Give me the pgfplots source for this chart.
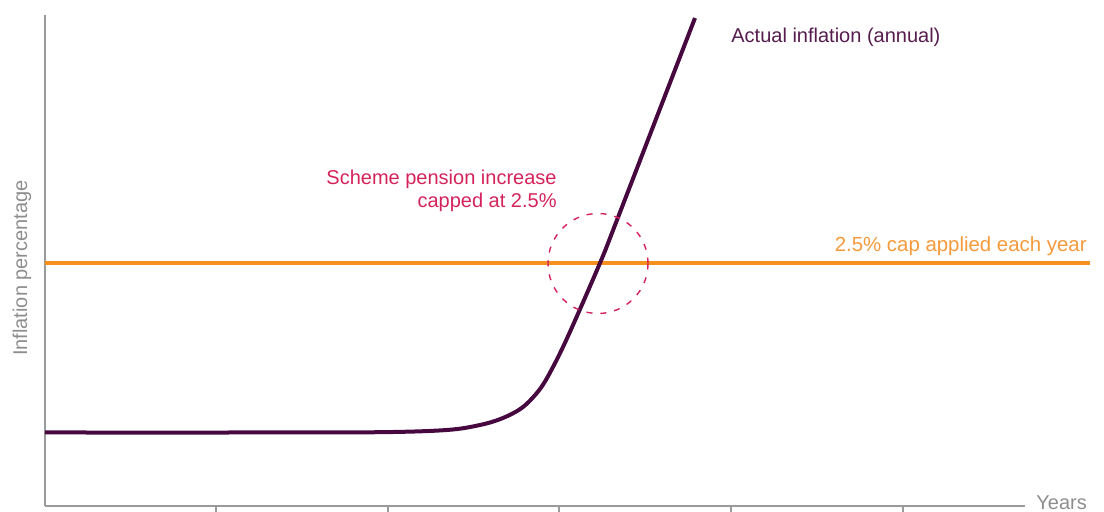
\documentclass[border=0pt]{standalone}
\usepackage{pgfplots}
\pgfplotsset{compat=1.18}
\usepackage{fontspec}
\setmainfont{Liberation Sans}
\definecolor{inflcol}{HTML}{46083F}
\definecolor{infltext}{HTML}{561C4E}
\definecolor{capcol}{HTML}{F7901E}
\definecolor{captext}{HTML}{F59A3B}
\definecolor{crimcol}{HTML}{D4235B}
\definecolor{axgray}{HTML}{9A9A9A}
\definecolor{labgray}{HTML}{8E8E8E}
\begin{document}
\begin{tikzpicture}
\path[use as bounding box] (-22.5pt,-3pt) rectangle (529.5pt,253pt);
\begin{axis}[
  scale only axis,
  width=490pt, height=245.5pt,
  xmin=0, xmax=980, ymin=0, ymax=491,
  axis x line=bottom, axis y line=left,
  axis line style={draw=axgray, line width=1pt, -},
  xtick={171,343,514,686,858},
  xticklabels={},
  ytick=\empty,
  tick align=outside,
  major tick length=3pt,
  xtick style={draw=axgray, line width=0.8pt},
  clip=false,
  font=\fontsize{10}{12}\selectfont,
]
\addplot[color=capcol, line width=2pt] coordinates {(0,243) (1045,243)};
\addplot[color=inflcol, line width=2pt, smooth, tension=0.55] coordinates {
(0,73.5) (200,73.5) (335,73.8) (402,76) (435,81) (458,88) (478,99) (495,117) (508,139) (524,172) (555,243) (572,286) (650,488)};
\draw[color=crimcol, line width=0.7pt, dash pattern=on 3pt off 4pt] (axis cs:553,242.5) circle[radius=25pt];
\node[inner sep=0pt, anchor=base west, text=infltext, font=\fontsize{10}{12}\selectfont] at (axis cs:686,463) {Actual inflation (annual)};
\node[inner sep=0pt, anchor=base east, text=captext, font=\fontsize{10.2}{12}\selectfont] at (axis cs:1042,254) {2.5\% cap applied each year};
\node[inner sep=0pt, anchor=base east, text=crimcol, font=\fontsize{10}{12}\selectfont] at (axis cs:512,321) {Scheme pension increase};
\node[inner sep=0pt, anchor=base east, text=crimcol, font=\fontsize{10}{12}\selectfont] at (axis cs:512,298) {capped at 2.5\%};
\node[inner sep=0pt, anchor=base west, text=labgray, font=\fontsize{10}{12}\selectfont] at (axis cs:991,-4) {Years};
\node[inner sep=0pt, rotate=90, text=labgray, font=\fontsize{10}{12}\selectfont] at (axis cs:-23,238) {Inflation percentage};
\end{axis}
\end{tikzpicture}
\end{document}
